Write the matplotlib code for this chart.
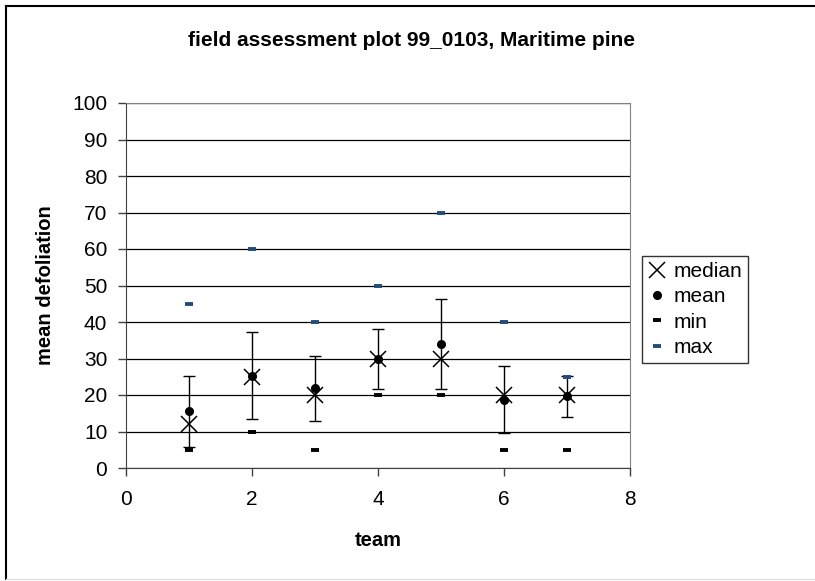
import matplotlib
matplotlib.use("Agg")
import matplotlib.pyplot as plt
from matplotlib.lines import Line2D

plt.rcParams['font.family'] = ['Liberation Sans', 'DejaVu Sans']

teams = [1, 2, 3, 4, 5, 6, 7]
median = [12, 25, 20, 30, 30, 20, 20]
mean = [15.5, 25.3, 21.8, 29.9, 34.0, 18.7, 19.6]
err = [9.8, 11.9, 9.0, 8.2, 12.3, 9.2, 5.7]
vmin = [5, 10, 5, 20, 20, 5, 5]
vmax = [45, 60, 40, 50, 70, 40, 25]

title = "field assessment plot 99_0103, Maritime pine"
xlabel = "team"
ylabel = "mean defoliation"
max_color = "#1f4e79"

W, H = 815, 581
fig = plt.figure(figsize=(W / 100, H / 100), dpi=100)

# chart area border (left, top black; bottom light gray)
fig.add_artist(Line2D([6 / W, 6 / W], [1 - 6 / H, 1 - 579 / H], color='black', lw=1.5, transform=fig.transFigure))
fig.add_artist(Line2D([6 / W, 1.0], [1 - 6 / H, 1 - 6 / H], color='black', lw=1.5, transform=fig.transFigure))
fig.add_artist(Line2D([6 / W, 1.0], [1 - 579 / H, 1 - 579 / H], color='#e0e0e0', lw=1, transform=fig.transFigure))

x0, x1, y0, y1 = 126, 630, 103, 468
ax = fig.add_axes([x0 / W, 1 - y1 / H, (x1 - x0) / W, (y1 - y0) / H])
ax.set_xlim(0, 8)
ax.set_ylim(0, 100)
ax.set_xticks([0, 2, 4, 6, 8])
ax.set_yticks(range(0, 101, 10))
ax.yaxis.grid(True, color='black', lw=0.9)
ax.set_axisbelow(True)
for s in ['top', 'right']:
    ax.spines[s].set_color('#808080')
for s in ['left', 'bottom']:
    ax.spines[s].set_color('#404040')
ax.tick_params(axis='both', direction='out', length=5.5, width=1, color='#404040',
               labelsize=15)
ax.tick_params(axis='y', pad=8)
ax.tick_params(axis='x', pad=10)

ax.errorbar(teams, mean, yerr=err, fmt='none', ecolor='black', elinewidth=1,
            capsize=4.5, capthick=1, zorder=3)
ax.plot(teams, median, linestyle='none', marker='x', markersize=12, mew=1.1,
        color='black', label='median', zorder=4)
ax.plot(teams, mean, linestyle='none', marker='o', markersize=5.5,
        color='black', label='mean', zorder=5)
ax.plot(teams, vmin, linestyle='none', marker='_', markersize=5.5, mew=2.8,
        color='black', label='min', zorder=4)
ax.plot(teams, vmax, linestyle='none', marker='_', markersize=5.5, mew=2.8,
        color=max_color, label='max', zorder=4)

ax.set_xlabel(xlabel, fontsize=14.5, fontweight='bold')
ax.xaxis.set_label_coords(0.5, (468 - 531) / 365)
ax.set_ylabel(ylabel, fontsize=14.5, fontweight='bold')
ax.yaxis.set_label_coords((55 - 126) / 504, 0.5)

fig.text(0.505, 1 - 40 / H, title, ha='center', va='center', fontsize=15, fontweight='bold')

leg = ax.legend(loc='upper left', bbox_to_anchor=(642 / W, 1 - 256 / H),
                bbox_transform=fig.transFigure, frameon=True, fancybox=False,
                edgecolor='black', fontsize=15, handlelength=0.8, handletextpad=0.4,
                borderpad=0.3, labelspacing=0.3, borderaxespad=0)
leg.get_frame().set_linewidth(1)

fig.savefig("out.png", dpi=100)
